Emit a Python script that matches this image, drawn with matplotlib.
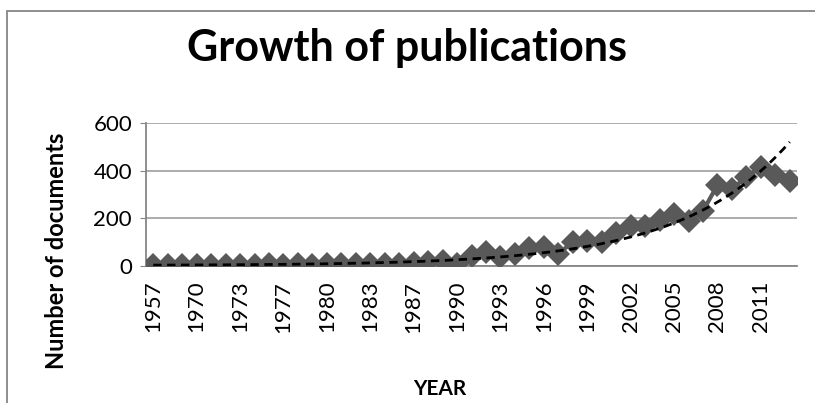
import numpy as np
import matplotlib
matplotlib.use("Agg")
from matplotlib import pyplot as plt
from matplotlib.patches import Rectangle

years = [1957, 1965, 1968, 1970, 1971, 1972, 1973, 1974, 1976, 1977,
         1978, 1979, 1980, 1981, 1982, 1983, 1984, 1986, 1987, 1988,
         1989, 1990, 1991, 1992, 1993, 1994, 1995, 1996, 1997, 1998,
         1999, 2000, 2001, 2002, 2003, 2004, 2005, 2006, 2007, 2008,
         2009, 2010, 2011, 2012, 2013]
docs = [3, 2, 3, 3, 4, 3, 4, 4, 5, 4,
        5, 4, 7, 5, 6, 6, 7, 6, 9, 14,
        20, 8, 38, 58, 37, 50, 73, 80, 48, 100,
        102, 98, 135, 168, 168, 190, 215, 188, 230, 338,
        322, 372, 415, 382, 355]
yticks = [0, 200, 400, 600]

plt.rcParams['font.family'] = ['Lato', 'DejaVu Sans']

fig = plt.figure(figsize=(8.15, 4.03), dpi=100)
ax = fig.add_axes([146/815, 1-265.5/403, (797-146)/815, (265.5-123)/403])

x = np.arange(len(years))
ax.plot(x, docs, color='#595959', lw=3, marker='D', markersize=12,
        markeredgewidth=0, zorder=3)

# exponential trendline (Excel style, x = 1..n)
b, a = np.polyfit(x + 1, np.log(docs), 1)
xt = np.linspace(0, len(years) - 1, 300)
ax.plot(xt, np.exp(a) * np.exp(b * (xt + 1)), color='black', lw=2,
        ls=(0, (3, 2)), zorder=4)

ax.set_xlim(-0.5, len(years) - 0.5)
ax.set_ylim(0, 600)
ax.set_yticks(yticks)
ax.yaxis.grid(True, color='#a6a6a6', lw=1.3)
ax.set_axisbelow(True)
ax.set_xticks(x[::3])
ax.set_xticklabels([str(y) for y in years[::3]], rotation=90, fontsize=16)
ax.tick_params(axis='y', labelsize=16, length=4, color='#868686', pad=6)
ax.tick_params(axis='x', length=0, pad=11)
for s in ['top', 'right']:
    ax.spines[s].set_visible(False)
for s in ['left', 'bottom']:
    ax.spines[s].set_color('#868686')
    ax.spines[s].set_linewidth(1.3)

fig.text(407/815, 1-48/403, 'Growth of publications', ha='center', va='center',
         fontsize=31, fontweight='bold')
fig.text(57/815, 1-251/403, 'Number of documents', ha='center', va='center',
         rotation=90, fontsize=17, fontweight='bold')
fig.text(440/815, 1-389/403, 'YEAR', ha='center', va='center',
         fontsize=15, fontweight='bold')

fig.add_artist(Rectangle((7/815, -0.1), 1.2, 1-11/403+0.1, transform=fig.transFigure,
                         fill=False, edgecolor='#868686', lw=1.3))

fig.savefig('out.png', dpi=100)
